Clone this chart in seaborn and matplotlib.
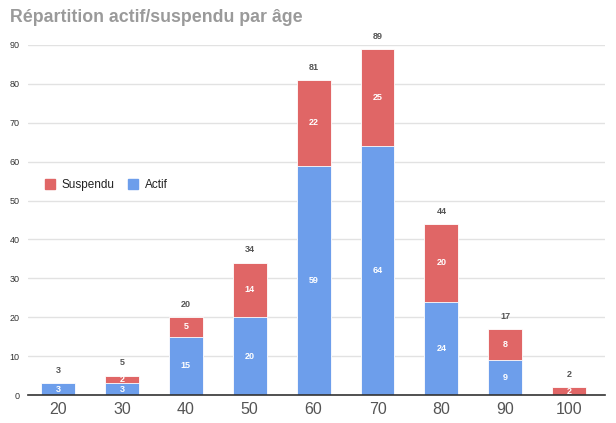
import matplotlib
matplotlib.use("Agg")
import matplotlib.pyplot as plt
from matplotlib.lines import Line2D
import seaborn as sns
import pandas as pd

ages = ["20", "30", "40", "50", "60", "70", "80", "90", "100"]
actif = [3, 3, 15, 20, 59, 64, 24, 9, 0]
suspendu = [0, 2, 5, 14, 22, 25, 20, 8, 2]
totals = [a + s for a, s in zip(actif, suspendu)]

blue = "#6d9eeb"
red = "#e06666"

df = pd.DataFrame({"age": ages, "actif": actif, "suspendu": suspendu, "total": totals})

sns.set_style("white")
plt.rcParams["font.family"] = ["Liberation Sans", "DejaVu Sans"]

fig = plt.figure(figsize=(6.16, 4.23), dpi=100)
ax = fig.add_axes([28 / 616, 1 - 395 / 423, 577 / 616, 350 / 423])

# stacked look: total bar in red, actif drawn over it in blue
sns.barplot(data=df, x="age", y="total", color=red, width=0.53, saturation=1,
            ax=ax, zorder=2, edgecolor="white", linewidth=0.6)
sns.barplot(data=df, x="age", y="actif", color=blue, width=0.53, saturation=1,
            ax=ax, zorder=3, edgecolor="white", linewidth=0.6)

ax.set_ylim(0, 90)
ax.set_xlim(-0.47, 8.56)
ax.set_yticks(range(0, 91, 10))
ax.set_xlabel("")
ax.set_ylabel("")
ax.yaxis.grid(True, color="#e2e2e2", linewidth=1, zorder=0)
ax.set_axisbelow(True)
for s in ["top", "right", "left"]:
    ax.spines[s].set_visible(False)
ax.spines["bottom"].set_color("#333333")
ax.spines["bottom"].set_linewidth(1.2)
ax.spines["bottom"].set_zorder(5)
ax.tick_params(axis="y", labelsize=6.5, labelcolor="#333333", length=0, pad=6)
ax.tick_params(axis="x", labelsize=11.5, labelcolor="#555555", length=0, pad=5)

# segment labels
for i in range(len(ages)):
    if actif[i] > 0:
        ax.text(i, actif[i] / 2, str(actif[i]), ha="center", va="center",
                color="white", fontsize=6.5, fontweight="bold", zorder=6)
    if suspendu[i] > 0:
        ax.text(i, actif[i] + suspendu[i] / 2, str(suspendu[i]), ha="center", va="center",
                color="white", fontsize=6.5, fontweight="bold", zorder=6)
    ax.text(i, totals[i] + 3.3, str(totals[i]), ha="center", va="center",
            color="#555555", fontsize=6.5, fontweight="bold", zorder=6, clip_on=False)

handles = [
    Line2D([], [], marker="s", linestyle="", markersize=7, color=red, label="Suspendu"),
    Line2D([], [], marker="s", linestyle="", markersize=7, color=blue, label="Actif"),
]
fig.legend(handles=handles, loc="center left", bbox_to_anchor=(32 / 616, 1 - 185 / 423),
           ncol=2, frameon=False, fontsize=8.5, handlelength=1.2, handletextpad=0.4,
           columnspacing=1.0, labelcolor="#222222")

fig.text(10 / 616, 1 - 18 / 423, "Répartition actif/suspendu par âge", ha="left", va="center",
         fontsize=12.8, fontweight="bold", color="#9a9a9a")

fig.savefig("out.png", dpi=100)
